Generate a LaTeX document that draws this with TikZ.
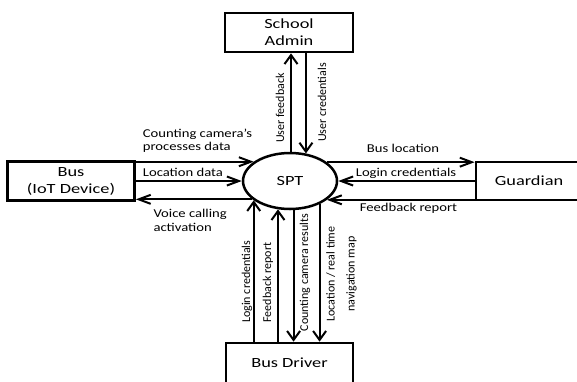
\documentclass[tikz,border=0pt]{standalone}
\usepackage{fontspec}
\setmainfont{Carlito}
\usetikzlibrary{arrows.meta,shapes.geometric}
\newcommand{\hs}[1]{\scalebox{1.22}[1]{#1}}
\newcommand{\bs}[1]{\scalebox{1.31}[1]{#1}}
\begin{document}
\begin{tikzpicture}[x=1pt,y=-1pt,
  entity/.style={draw,line width=2.7pt,rectangle,inner sep=0pt,align=center,font=\fontsize{14}{17}\selectfont},
  proc/.style={draw,line width=2.5pt,ellipse,inner sep=0pt,minimum width=94pt,minimum height=56pt,font=\fontsize{14}{17}\selectfont},
  flow/.style={line width=2pt},
  ha/.style={flow,-{Straight Barb[length=12pt,width=9pt]}},
  va/.style={flow,-{Straight Barb[length=9pt,width=13pt]}},
  hlab/.style={inner sep=0pt,font=\fontsize{12}{13.5}\selectfont},
  vlab/.style={inner sep=0pt,rotate=90,align=center,font=\fontsize{12}{20}\selectfont}]
\useasboundingbox (0,0) rectangle (577,381);
\fill[white] (0,0) rectangle (577,381);
% entities
\node[entity,minimum width=128pt,minimum height=39pt] (admin) at (289,32.5) {\bs{School}\\\bs{Admin}};
\node[entity,minimum width=127pt,minimum height=39pt] (bus) at (71,181) {\bs{Bus}\\\bs{(IoT Device)}};
\node[entity,minimum width=106pt,minimum height=38pt] (guardian) at (529,181) {\bs{Guardian}};
\node[entity,minimum width=127pt,minimum height=40pt] (driver) at (289.5,363) {\bs{Bus Driver}};
\node[proc] (spt) at (290,181) {\bs{SPT}};
% left flows
\draw[ha] (spt.152.35 -| bus.east) -- (spt.152.35);
\draw[ha] (bus.east) -- (spt.west);
\draw[ha] (spt.206.6) -- (spt.206.6 -| bus.east);
% right flows
\draw[ha] (spt.27.65) -- (spt.27.65 -| guardian.west);
\draw[ha] (guardian.west) -- (spt.east);
\draw[ha] (spt.333.4 -| guardian.west) -- (spt.333.4);
% top flows
\draw[va] (spt.88.6) -- (spt.88.6 |- admin.south);
\draw[va] (spt.60.2 |- admin.south) -- (spt.60.2);
% bottom flows
\draw[va] (spt.208.05 |- driver.north) -- (spt.208.05);
\draw[va] (spt.247.4 |- driver.north) -- (spt.247.4);
\draw[va] (spt.277.9) -- (spt.277.9 |- driver.north);
\draw[va] (spt.322.96) -- (spt.322.96 |- driver.north);
% horizontal labels
\node[hlab,anchor=west,align=left] (l1) at (142.7,140.8) {\hs{Counting camera’s}\\\hs{processes data}};
\node[hlab,anchor=west] (l2) at (142.7,172.3) {\hs{Location data}};
\node[hlab,anchor=west,align=left] (l3) at (153.3,220.3) {\hs{Voice calling}\\\hs{activation}};
\node[hlab] (r1) at (403,148) {\hs{Bus location}};
\node[hlab] (r2) at (406,173) {\hs{Login credentials}};
\node[hlab] (r3) at (408.5,208) {\hs{Feedback report}};
% vertical labels
\node[vlab] (t1) at (280,108) {User feedback};
\node[vlab] (t2) at (322,102.5) {User credentials};
\node[vlab] (b1) at (247,281.7) {Login credentials};
\node[vlab] (b2) at (268,282.5) {Feedback report};
\node[vlab] (b3) at (305,272.5) {Counting camera results};
\node[vlab] (b4) at (341.5,274) {Location / real time\\navigation map};
\end{tikzpicture}
\end{document}
